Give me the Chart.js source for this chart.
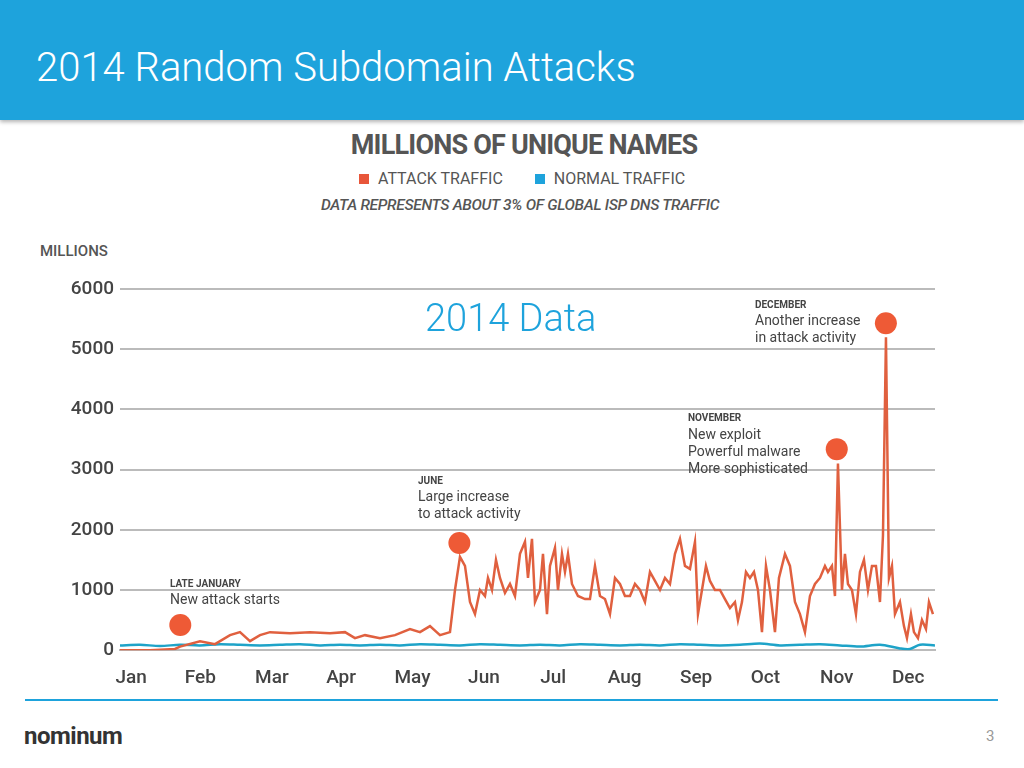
<!DOCTYPE html>
<html><head><meta charset="utf-8">
<script src="https://cdn.jsdelivr.net/npm/chart.js@4"></script>
<style>
body{margin:0;width:1024px;height:768px;background:#fff;font-family:Roboto,"Open Sans",sans-serif;position:relative;overflow:hidden}
.hdr{position:absolute;left:0;top:0;width:1024px;height:120px;background:#1ea3dc;box-shadow:0 2px 4px rgba(0,0,0,.3)}
.hdr div{position:absolute;left:36px;top:44px;color:#fff;font-size:40px;font-weight:300}
.t{position:absolute;color:#444;white-space:nowrap}
#wrap{position:absolute;left:0;top:240px;width:1024px;height:464px}
</style></head><body>
<div class="hdr"><div>2014 Random Subdomain Attacks</div></div>
<div class="t" style="left:0;width:1048px;text-align:center;top:129px;font-size:27px;font-weight:700;color:#555;letter-spacing:-0.8px">MILLIONS OF UNIQUE NAMES</div>
<div class="t" style="left:359px;top:169px;font-size:16px;color:#555"><span style="display:inline-block;width:10px;height:10px;background:#e8563a;margin-right:9px"></span>ATTACK TRAFFIC <span style="display:inline-block;width:10px;height:10px;background:#1ea3dc;margin:0 9px 0 28px"></span>NORMAL TRAFFIC</div>
<div class="t" style="left:321px;top:196px;font-size:15.5px;font-style:italic;font-weight:500;color:#555;letter-spacing:-0.3px">DATA REPRESENTS ABOUT 3% OF GLOBAL ISP DNS TRAFFIC</div>
<div class="t" style="left:40px;top:242px;font-size:15px;font-weight:500;color:#555">MILLIONS</div>
<div id="wrap"><canvas id="c"></canvas></div>
<div class="t" style="left:425px;top:296px;font-size:38px;color:#1ea3dc;font-weight:300">2014 Data</div>
<div class="t" style="left:755px;top:299px;font-size:10px;font-weight:700">DECEMBER</div>
<div class="t" style="left:755px;top:312px;font-size:14px;line-height:17px">Another increase<br>in attack activity</div>
<div class="t" style="left:688px;top:412px;font-size:10px;font-weight:700">NOVEMBER</div>
<div class="t" style="left:688px;top:426px;font-size:14px;line-height:17px">New exploit<br>Powerful malware<br>More sophisticated</div>
<div class="t" style="left:418px;top:475px;font-size:10px;font-weight:700">JUNE</div>
<div class="t" style="left:418px;top:488px;font-size:14px;line-height:17px">Large increase<br>to attack activity</div>
<div class="t" style="left:170px;top:578px;font-size:10px;font-weight:700">LATE JANUARY</div>
<div class="t" style="left:170px;top:591px;font-size:14px">New attack starts</div>
<div style="position:absolute;left:25px;top:699px;width:973px;height:2px;background:#1ea3dc"></div>
<div class="t" style="left:24px;top:722px;font-size:24px;font-weight:700;color:#333;letter-spacing:-0.5px">nominum</div>
<div class="t" style="left:986px;top:727px;font-size:15px;color:#999">3</div>
<script>
const monthLabels=["Jan","Feb","Mar","Apr","May","Jun","Jul","Aug","Sep","Oct","Nov","Dec"];
const monthTickDays=[5,36,68,99,131,163,194,226,258,289,321,353];
const attackPx=[120,150,175,180,200,215,230,240,250,260,270,290,310,330,345,355,365,380,395,410,420,430,440,450,455,460,465,470,475,480,485,488,492,496,500,505,510,515,520,525,528,532,535,540,543,547,550,555,558,562,565,568,572,578,585,590,595,600,605,610,615,620,625,630,635,640,645,650,655,660,665,670,675,680,685,690,695,698,702,706,710,715,720,725,730,735,738,742,746,750,754,758,762,766,770,775,779,785,790,795,800,805,810,815,820,825,828,832,835,838,842,845,848,852,856,860,864,868,872,876,880,883,886,889,892,895,900,904,907,911,914,918,922,926,929,933];
const attackVals=[0,0,20,60,150,100,250,300,150,250,300,280,300,280,300,200,250,200,250,350,300,400,250,300,1000,1550,1400,800,600,1000,900,1200,1000,1500,1200,950,1100,900,1600,1800,1200,1850,800,1000,1600,600,1400,1700,1000,1600,1300,1600,1100,900,850,850,1400,900,850,600,1200,1100,900,900,1100,1000,800,1300,1150,1000,1200,1100,1600,1850,1400,1350,1800,600,1000,1400,1150,1000,1000,850,700,800,500,800,1300,1200,1300,1000,300,1400,1000,300,1200,1600,1400,800,600,300,900,1100,1200,1400,1300,1400,900,3100,1000,1600,1100,1000,600,1300,1500,1000,1400,1400,800,1900,5200,1200,1400,600,800,400,200,600,300,200,500,350,800,600];
const normalPx=[120,140,160,180,200,220,240,260,280,300,320,340,360,380,400,420,440,460,480,500,520,540,560,580,600,620,640,660,680,700,720,740,760,780,800,820,840,860,880,900,910,920,935];
const normalVals=[80,90,70,90,80,100,90,80,90,100,80,90,80,90,80,100,90,80,100,90,80,90,80,100,90,80,90,80,100,90,80,90,110,80,90,100,80,60,90,30,20,90,80];
const calloutDays=[27,152,321,343];
const calloutVals=[420,1780,3340,5430];
const toDay=px=>(px-120)/2.233;
const attack=attackPx.map((p,i)=>({x:toDay(p),y:attackVals[i]}));
const normal=normalPx.map((p,i)=>({x:toDay(p),y:normalVals[i]}));
const callouts=calloutDays.map((d,i)=>({x:d,y:calloutVals[i]}));
new Chart(document.getElementById('c'),{
 type:'line',
 data:{datasets:[
  {data:callouts,showLine:false,pointRadius:11,pointBackgroundColor:'#ee5a36',pointBorderWidth:0},
  {data:attack,borderColor:'#e0603f',borderWidth:2.5,pointRadius:0,tension:0},
  {data:normal,borderColor:'#1ea3c8',borderWidth:2.5,pointRadius:0,tension:0.3}
 ]},
 options:{animation:false,responsive:true,maintainAspectRatio:false,
  layout:{padding:{top:49,right:89,left:0,bottom:5}},
  plugins:{legend:{display:false},tooltip:{enabled:false}},
  scales:{
   x:{type:'linear',min:0,max:365,grid:{display:false},border:{color:'#bbb',width:2},
      afterBuildTicks:a=>{a.ticks=monthTickDays.map(v=>({value:v}));},
      ticks:{autoSkip:false,maxRotation:0,color:'#444',font:{size:19,family:'Roboto',weight:'500'},padding:9,callback:(v,i)=>monthLabels[i]}},
   y:{min:0,max:6000,afterFit:s=>{s.width=120;},
      grid:{color:'#bbb',lineWidth:2,drawTicks:false},border:{display:false},
      ticks:{stepSize:1000,color:'#444',font:{size:19,family:'Roboto',weight:'500'},padding:6,callback:v=>String(v)}}
  }}
});
</script></body></html>
